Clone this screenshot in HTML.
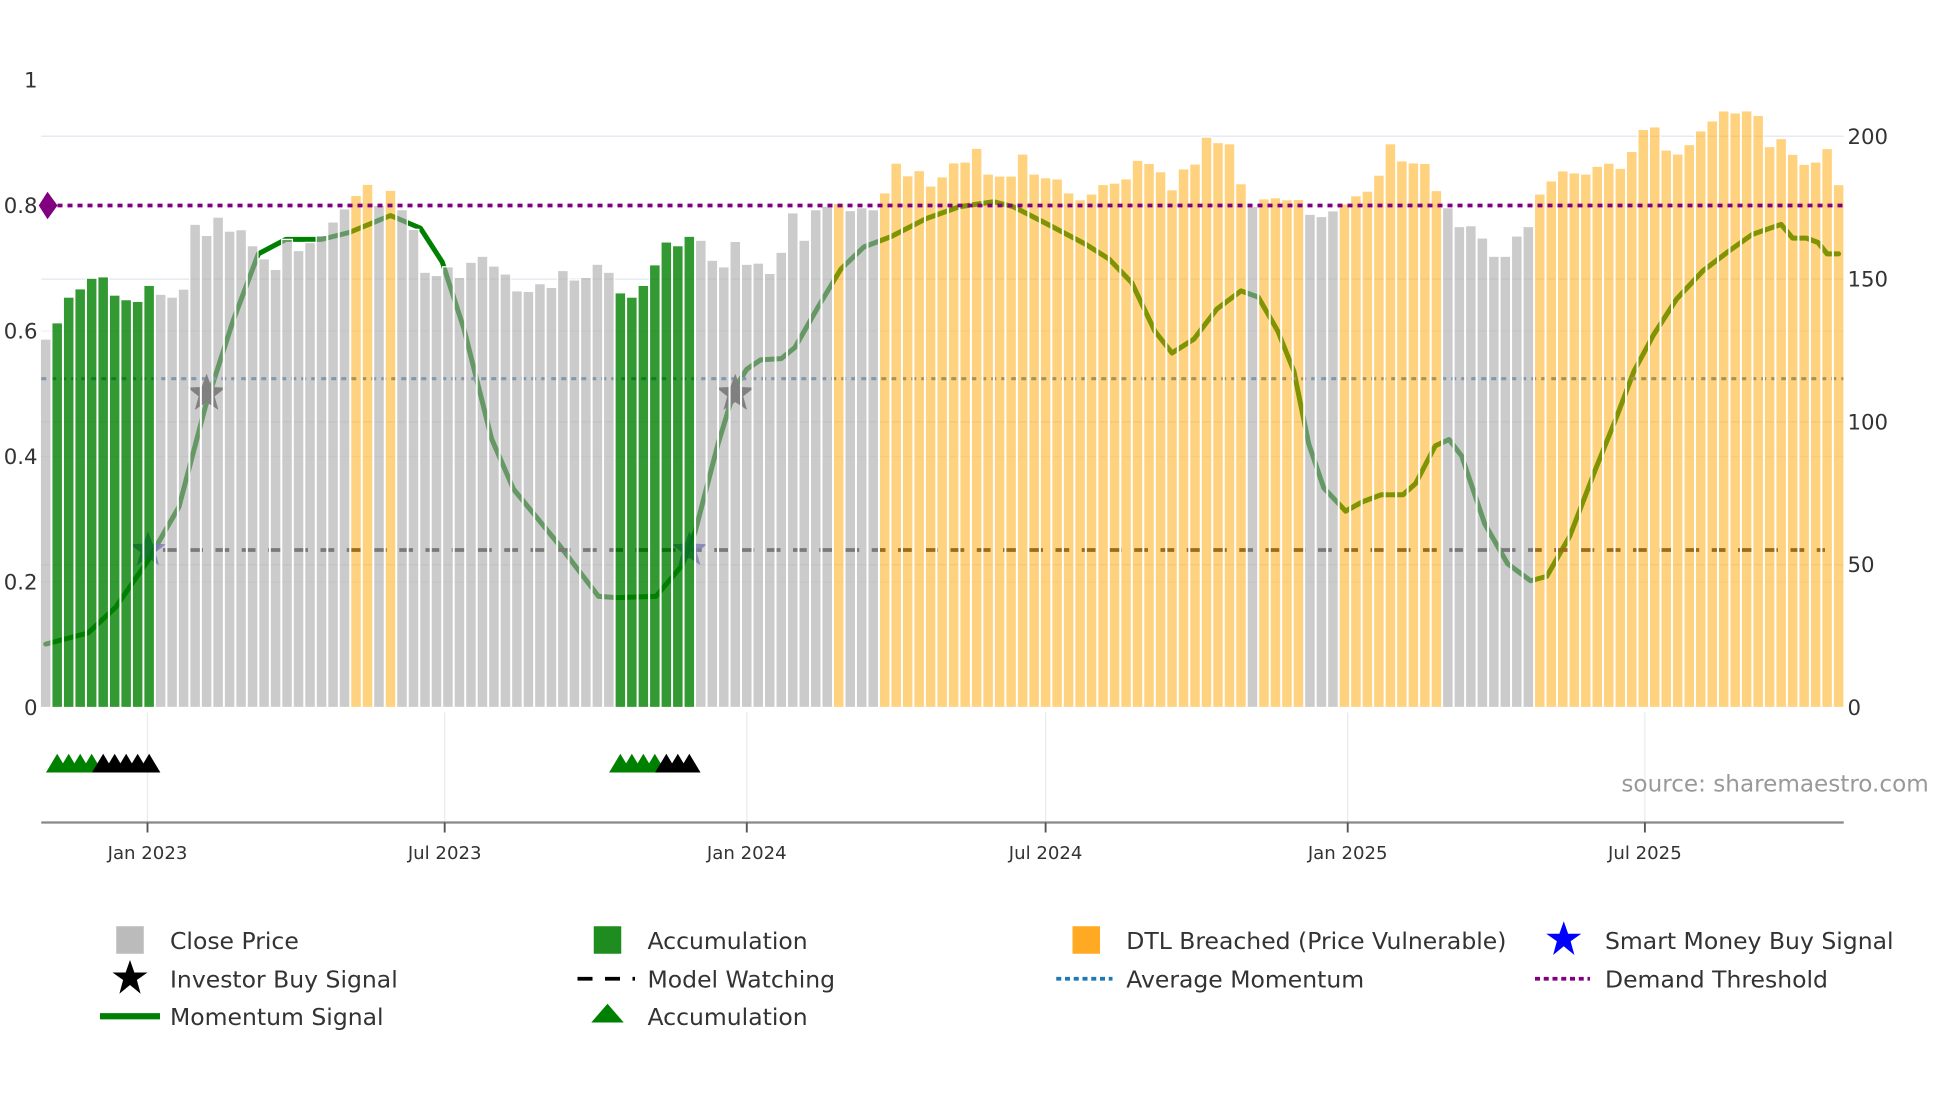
<!DOCTYPE html>
<html><head><meta charset="utf-8"><style>
html,body{margin:0;padding:0;background:#fff;}
svg{display:block;font-family:"DejaVu Sans","Liberation Sans",sans-serif;}
</style></head><body>
<svg id="chart" width="1960" height="1102" viewBox="0 0 1568 881.6" preserveAspectRatio="none" xmlns="http://www.w3.org/2000/svg">
<g id="grid"></g>
<g id="under"></g>
<g id="bars"></g>
<g id="axes"></g>
<g id="lower"></g>
<text x="1543" y="633" text-anchor="end" font-size="18.5" fill="#999">source: sharemaestro.com</text>
<g id="legend" font-size="18.8" fill="#333">
  <rect x="93" y="741" width="22" height="22" fill="#bbbbbb"/>
  <text x="136" y="759">Close Price</text>
  <polygon points="104,768 107.5,778 118,778 109.5,784 112.5,795 104,788 95.5,795 98.5,784 90,778 100.5,778" fill="#000"/>
  <text x="136" y="790">Investor Buy Signal</text>
  <line x1="80" y1="813" x2="128" y2="813" stroke="#008000" stroke-width="5"/>
  <text x="136" y="820">Momentum Signal</text>
  <rect x="475" y="741" width="22" height="22" fill="#1f8c1f"/>
  <text x="518" y="759">Accumulation</text>
  <line x1="462" y1="783" x2="508" y2="783" stroke="#000" stroke-width="3" stroke-dasharray="12,10"/>
  <text x="518" y="790">Model Watching</text>
  <polygon points="486,803 499,818 473,818" fill="#008000"/>
  <text x="518" y="820">Accumulation</text>
  <rect x="858" y="741" width="22" height="22" fill="#ffaa22"/>
  <text x="901" y="759">DTL Breached (Price Vulnerable)</text>
  <line x1="845" y1="783" x2="890" y2="783" stroke="#1f77b4" stroke-width="3" stroke-dasharray="4,3"/>
  <text x="901" y="790">Average Momentum</text>
  <polygon points="1251,737 1254.5,747 1265,747 1256.5,753 1259.5,764 1251,757 1242.5,764 1245.5,753 1237,747 1247.5,747" fill="#0000ff"/>
  <text x="1284" y="759">Smart Money Buy Signal</text>
  <line x1="1228" y1="783" x2="1272" y2="783" stroke="#800080" stroke-width="3" stroke-dasharray="4,3"/>
  <text x="1284" y="790">Demand Threshold</text>
</g>
</svg>
<script>
// ---- data ----
const prices = [129,134.7,143.7,146.6,150.3,150.8,144.4,142.8,142.2,147.8,144.7,143.7,146.5,169.2,165.3,171.7,166.8,167.3,161.7,157.1,153.4,163.9,160,162.8,165.3,170,174.6,179.3,183.2,175.8,181.1,174.3,167.4,152.4,151.3,154.3,150.6,155.9,158,154.6,151.8,145.9,145.7,148.4,147.1,153,149.7,150.6,155.2,152.4,145.2,143.7,147.8,155,163,161.7,165,163.6,156.6,154.3,163.2,155.2,155.6,152,159.4,173.2,163.6,174.3,175.5,176.5,174,175,174.3,180.2,190.6,186.2,188,182.6,185.8,190.7,191,195.8,186.8,186.1,186.1,193.8,186.8,185.5,185.1,180.2,177.8,179.8,183.1,183.6,185.1,191.6,190.5,187.6,181.3,188.6,190.3,199.7,197.8,197.4,183.4,175.4,178.1,178.5,177.8,177.9,172.7,171.9,173.9,176.3,179.2,180.8,186.4,197.4,191.4,190.7,190.5,181,175,168.4,168.7,164.4,158,158,165.1,168.4,179.8,184.4,187.9,187.2,186.8,189.5,190.6,188.8,194.7,202.4,203.3,195.2,193.8,197.1,201.9,205.4,208.9,208.2,208.9,207.3,196.4,199.2,193.7,190.2,191,195.7,183.1];
const stateRunTypes = ["g","a","g","o","g","o","g","a","g","o","g","o","g","o","g","o","g","o"];
const stateRunLengths = [1,9,17,2,1,1,19,7,12,1,3,32,1,4,3,9,8,27];
const momWeeks = [0,3.7,6.1,8.9,11.6,13.9,16.3,18.5,20.9,24,26.4,30,32.6,34.5,36.4,38.8,40.7,44.6,48.1,49.7,53.1,55.4,56.5,58.5,60,61,62.2,64,65.2,67.2,69.2,71.2,73.5,76.6,79.5,82.5,84.2,87.2,90.5,92.5,94.5,96.5,98,99.9,101.9,104,105.5,107.2,108.6,109.9,111.2,113.1,114.6,116.2,118.1,119.2,120.9,122.1,123.2,125.2,127.2,129.2,130.6,132.6,134.9,136.6,138.2,139.9,141.9,144.2,146.5,148.5,151,152,153.2,154.2,155,156];
const momValues = [0.101,0.119,0.16,0.234,0.32,0.48,0.616,0.723,0.746,0.746,0.757,0.784,0.764,0.71,0.603,0.428,0.348,0.261,0.177,0.175,0.177,0.227,0.28,0.42,0.51,0.539,0.554,0.556,0.574,0.638,0.699,0.734,0.75,0.779,0.798,0.806,0.798,0.77,0.738,0.715,0.677,0.6,0.565,0.587,0.635,0.664,0.654,0.6,0.536,0.42,0.35,0.313,0.328,0.339,0.339,0.357,0.417,0.427,0.401,0.293,0.229,0.202,0.209,0.273,0.382,0.459,0.536,0.594,0.651,0.696,0.728,0.754,0.77,0.748,0.748,0.741,0.723,0.723];
const investorWeeks = [14,60];
const investorValues = [0.5,0.5];
const smartWeeks = [8.9,56];
const smartValues = [0.251,0.251];
const accTriWeeks = [1,2,3,4,50,51,52,53];
const watchTriWeeks = [5,6,7,8,9,54,55,56];
const demandThreshold = 0.8;
const averageMomentum = 0.524;
const modelWatching = 0.251;
const leftTicks = [0,0.2,0.4,0.6,0.8,1];
const leftTickLabels = ["0","0.2","0.4","0.6","0.8","1"];
const rightTicks = [0,50,100,150,200];
const dateTicks = ["2023-01-01","2023-07-01","2024-01-01","2024-07-01","2025-01-01","2025-07-01"];
const dateTickLabels = ["Jan 2023","Jul 2023","Jan 2024","Jul 2024","Jan 2025","Jul 2025"];
const startDate = "2022-10-31";

// ---- scales ----
const NS="http://www.w3.org/2000/svg";
const PL=33, PR=1475, BASE=566;
const t0 = Date.parse("2023-01-01T00:00:00Z");
const DAYPX = 1.3135, X0 = 118;
function xDate(s){ return X0 + (Date.parse(s+"T00:00:00Z")-t0)/86400000*DAYPX; }
const startX = xDate(startDate);
function xWeek(w){ return startX + w*7*DAYPX; }
function yPrice(v){ return BASE - v*2.285; }
function yMom(v){ return BASE - v*502; }
function el(tag, attrs, parent){ const e=document.createElementNS(NS,tag); for(const k in attrs) e.setAttribute(k,attrs[k]); parent.appendChild(e); return e; }
function starPts(cx,cy,R){ const r=R*0.42; let p=[]; for(let i=0;i<10;i++){ const a=-Math.PI/2+i*Math.PI/5; const rr=i%2?r:R; p.push((cx+rr*Math.cos(a)).toFixed(1)+","+(cy+rr*Math.sin(a)).toFixed(1)); } return p.join(" "); }
const barStates=[]; stateRunTypes.forEach((t,i)=>{ for(let k=0;k<stateRunLengths[i];k++) barStates.push(t); });

const grid=document.getElementById('grid'), under=document.getElementById('under'), bars=document.getElementById('bars'), axes=document.getElementById('axes'), lower=document.getElementById('lower');

rightTicks.forEach(v=>{ if(v===0) return; const l=el('line',{x1:PL,x2:PR,y1:yPrice(v),y2:yPrice(v),stroke:'#e6eaf1','stroke-width':1.2},grid);

 });
leftTicks.forEach(v=>{ if(v===0||v===1) return; const l=el('line',{x1:PL,x2:PR,y1:yMom(v),y2:yMom(v),stroke:'#eef0f4','stroke-width':1},grid);

 });
dateTicks.forEach(d=>{ const x=xDate(d); const l=el('line',{x1:x,x2:x,y1:570,y2:658,stroke:'#e8ebf0','stroke-width':1},grid);

 });

let dpath = momWeeks.map((w,i)=>(i?'L':'M')+xWeek(w).toFixed(1)+' '+yMom(momValues[i]).toFixed(1)).join(' ');
const mline = el('path',{d:dpath,fill:'none',stroke:'#008000','stroke-width':4,'stroke-linejoin':'round','stroke-linecap':'round'},under);



const avg = el('line',{x1:PL,x2:PR,y1:yMom(averageMomentum),y2:yMom(averageMomentum),stroke:'#4a7fae','stroke-width':2.5,'stroke-dasharray':'4,4'},under);


const mw = el('line',{x1:xWeek(smartWeeks[0])+12,x2:1460,y1:yMom(modelWatching),y2:yMom(modelWatching),stroke:'#333','stroke-width':3,'stroke-dasharray':'11,10'},under);



investorWeeks.forEach((w,i)=>{ const s=el('polygon',{points:starPts(xWeek(w),yMom(investorValues[i]),16),fill:'#444'},under);

 });
smartWeeks.forEach((w,i)=>{ const s=el('polygon',{points:starPts(xWeek(w),yMom(smartValues[i]),15),fill:'#4040d0','fill-opacity':0.85},under);

 });

const colors={g:['#a9a9a9',0.6],a:['#008000',0.8],o:['#ffa500',0.5]};
prices.forEach((p,i)=>{ const st=barStates[i]||'o'; const c=colors[st]; const x=xWeek(i);
const r=el('rect',{x:(x-4.3).toFixed(2),y:yPrice(p).toFixed(2),width:8.6,height:(BASE-yPrice(p)).toFixed(2),fill:c[0],'fill-opacity':c[1],stroke:'#fff','stroke-width':1},bars);

 });

const dt = el('line',{x1:38,x2:PR,y1:yMom(demandThreshold),y2:yMom(demandThreshold),stroke:'#800080','stroke-width':3,'stroke-dasharray':'4,4'},axes);


const yd=yMom(demandThreshold);
const dm = el('polygon',{points:`38,${yd-11} 46,${yd} 38,${yd+11} 31,${yd}`,fill:'#800080'},axes);



leftTicks.forEach((v,i)=>{ const t=el('text',{x:30,y:yMom(v)+6,'text-anchor':'end','font-size':17,fill:'#333'},axes); t.textContent=leftTickLabels[i];

 });
rightTicks.forEach(v=>{ const t=el('text',{x:1478,y:yPrice(v)+6,'font-size':17,fill:'#333'},axes); t.textContent=String(v);

 });

const ax = el('line',{x1:PL,x2:PR,y1:658,y2:658,stroke:'#888','stroke-width':1.8},lower);


dateTicks.forEach((d,i)=>{ const x=xDate(d);
const tk=el('line',{x1:x,x2:x,y1:658,y2:666,stroke:'#555','stroke-width':1.5},lower);


const t=el('text',{x:x,y:687,'text-anchor':'middle','font-size':14.5,fill:'#333'},lower); t.textContent=dateTickLabels[i];

 });
function tri(w,fill,name){ const x=xWeek(w); const p=el('polygon',{points:`${x-9},618 ${x},603 ${x+9},618`,fill:fill},lower);

 }
accTriWeeks.forEach(w=>tri(w,'#008000','accumulation-triangle'));
watchTriWeeks.forEach(w=>tri(w,'#000','watching-triangle'));
</script>
</body></html>
